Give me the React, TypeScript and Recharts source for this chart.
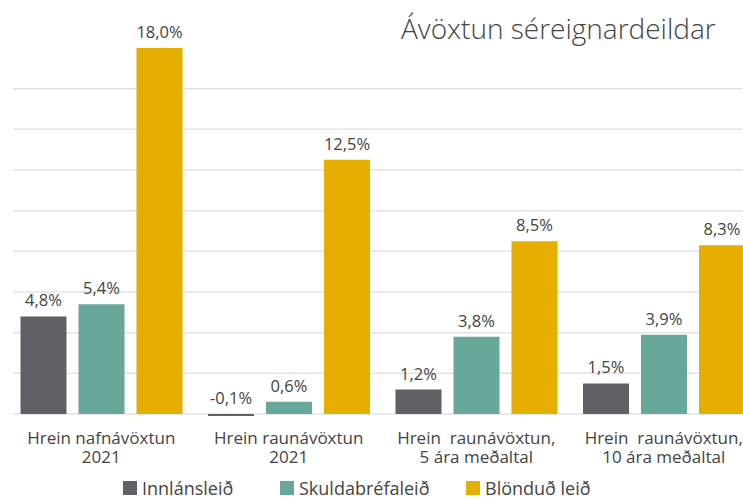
import { Bar, BarChart, CartesianGrid, LabelList, XAxis, YAxis } from "recharts";

const categories = [
  ["Hrein nafnávöxtun", "2021"],
  ["Hrein raunávöxtun", "2021"],
  ["Hrein  raunávöxtun,", "5 ára meðaltal"],
  ["Hrein  raunávöxtun,", "10 ára meðaltal"],
];
const innlansleid = [4.8, -0.1, 1.2, 1.5];
const skuldabrefaleid = [5.4, 0.6, 3.8, 3.9];
const blondudLeid = [18.0, 12.5, 8.5, 8.3];
const yTicks = [0, 2, 4, 6, 8, 10, 12, 14, 16];
const yDomain: [number, number] = [-0.1, 18];

const series = [
  { key: "innlan", label: "Innlánsleið", color: "#606165", values: innlansleid },
  { key: "skuld", label: "Skuldabréfaleið", color: "#67a89b", values: skuldabrefaleid },
  { key: "blond", label: "Blönduð leið", color: "#e6ae00", values: blondudLeid },
];

const data = categories.map((c, i) => ({
  name: c.join("|"),
  innlan: innlansleid[i],
  skuld: skuldabrefaleid[i],
  blond: blondudLeid[i],
}));

const FONT = "'Open Sans', sans-serif";
const TEXT = "#444";

function fmt(v: number) {
  return `${v.toFixed(1).replace(".", ",")}%`;
}

function gridRows(p: any) {
  const sc = p?.yAxis?.scale;
  if (typeof sc === "function") return yTicks.map((t) => sc(t));
  if (sc && typeof sc.map === "function") return yTicks.map((t) => sc.map(t));
  const { top, height } = p.offset;
  return yTicks.map((t) => top + (height * (yDomain[1] - t)) / (yDomain[1] - yDomain[0]));
}

function ValueLabel(props: any) {
  const { x, y, width, height, value } = props;
  const top = Math.min(y, y + height);
  return (
    <text
      x={x + width / 2}
      y={top - 10}
      textAnchor="middle"
      fill={TEXT}
      fontSize={16.5}
      fontFamily={FONT}
    >
      {fmt(value)}
    </text>
  );
}

function CategoryTick(props: any) {
  const { x, y, payload } = props;
  const [l1, l2] = String(payload.value).split("|");
  return (
    <g>
      <text x={x} y={y + 20} textAnchor="middle" fill={TEXT} fontSize={17} fontFamily={FONT} style={{ whiteSpace: "pre" }}>
        {l1}
      </text>
      <text x={x} y={y + 39} textAnchor="middle" fill={TEXT} fontSize={17} fontFamily={FONT}>
        {l2}
      </text>
    </g>
  );
}

export default function App() {
  return (
    <div
      style={{
        position: "absolute",
        left: 0,
        top: 0,
        width: 743,
        height: 501,
        overflow: "hidden",
        background: "#fff",
        fontFamily: FONT,
      }}
    >
      <div
        style={{
          position: "absolute",
          left: 401,
          top: 9,
          fontSize: 28,
          color: TEXT,
          fontWeight: 300,
          whiteSpace: "nowrap",
        }}
      >
        Ávöxtun séreignardeildar
      </div>
      <BarChart
        width={760}
        height={501}
        data={data}
        barSize={46}
        barGap={12}
        margin={{ top: 48, right: 0, left: 13, bottom: 0 }}
      >
        <CartesianGrid
          vertical={false}
          stroke="#e3e3e3"
          strokeWidth={1.5}
          horizontalCoordinatesGenerator={gridRows}
        />
        <YAxis hide domain={yDomain} ticks={yTicks} />
        <XAxis
          dataKey="name"
          axisLine={false}
          tickLine={false}
          interval={0}
          height={85}
          padding={{ left: -5.5, right: 2.5 }}
          tick={<CategoryTick />}
        />
        {series.map((s) => (
          <Bar key={s.key} dataKey={s.key} fill={s.color} isAnimationActive={false}>
            <LabelList dataKey={s.key} content={<ValueLabel />} />
          </Bar>
        ))}
      </BarChart>
      <div
        style={{
          position: "absolute",
          top: 477,
          left: 0,
          width: 743,
          fontSize: 18,
          lineHeight: "22px",
          color: TEXT,
        }}
      >
        {series.map((s, i) => (
          <div
            key={s.key}
            style={{
              position: "absolute",
              left: [123, 280, 466][i],
              top: 0,
              display: "flex",
              alignItems: "center",
              whiteSpace: "nowrap",
            }}
          >
            <span style={{ display: "inline-block", width: 14, height: 14, background: s.color, marginRight: 5 }} />
            {s.label}
          </div>
        ))}
      </div>
    </div>
  );
}
